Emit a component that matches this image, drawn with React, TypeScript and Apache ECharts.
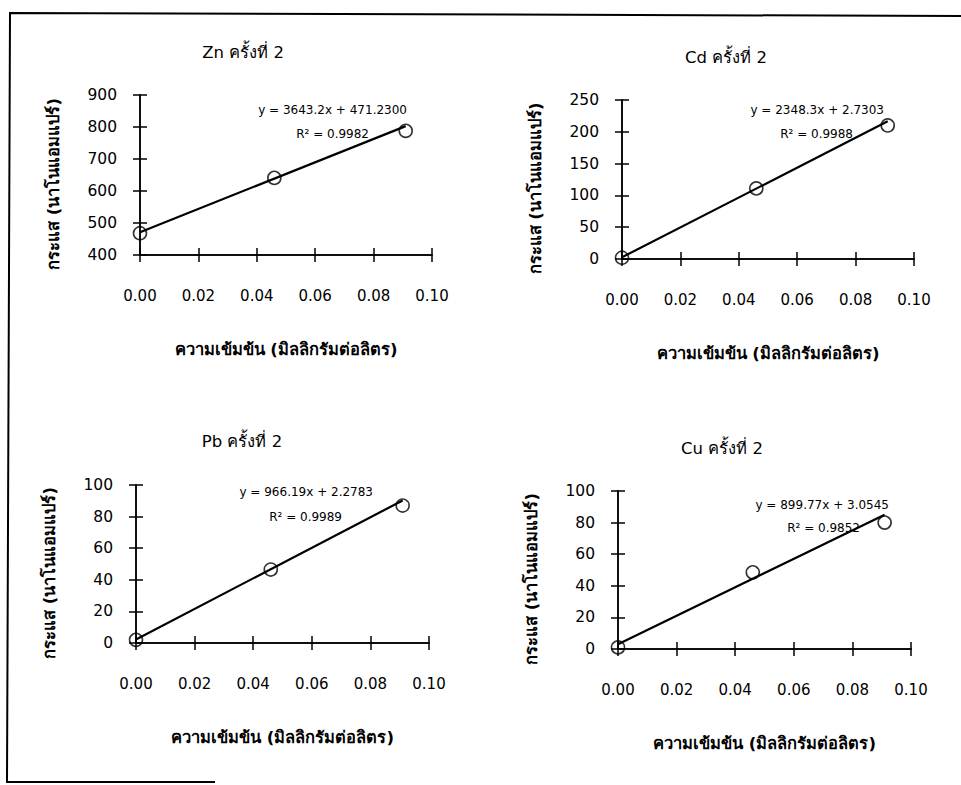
import React, { useEffect, useRef } from "react";
import * as echarts from "echarts";

// ---------- data ----------
const concentration = [0, 0.046, 0.091]; // mg/L
const znCurrent = [468, 641, 788];
const cdCurrent = [2, 111, 210];
const pbCurrent = [2, 46.5, 87];
const cuCurrent = [1, 48.5, 80];
const seriesCurrents = [znCurrent, cdCurrent, pbCurrent, cuCurrent];

const titles = ["Zn ครั้งที่ 2", "Cd ครั้งที่ 2", "Pb ครั้งที่ 2", "Cu ครั้งที่ 2"];
const slopes = [3643.2, 2348.3, 966.19, 899.77];
const intercepts = [471.23, 2.7303, 2.2783, 3.0545];
const equationLabels = [
  "y = 3643.2x + 471.2300",
  "y = 2348.3x + 2.7303",
  "y = 966.19x + 2.2783",
  "y = 899.77x + 3.0545",
];
const r2Labels = ["R² = 0.9982", "R² = 0.9988", "R² = 0.9989", "R² = 0.9852"];

const yMin = [400, 0, 0, 0];
const yMax = [900, 250, 100, 100];
const yStep = [100, 50, 20, 20];
const xMin = 0;
const xMax = 0.1;
const xStep = 0.02;

const xAxisName = "ความเข้มข้น (มิลลิกรัมต่อลิตร)";
const yAxisName = "กระแส (นาโนแอมแปร์)";

// ---------- layout ----------
const grids = [
  { left: 140, top: 95, width: 292, height: 160 },
  { left: 622, top: 100, width: 292, height: 159 },
  { left: 136, top: 485, width: 293, height: 158 },
  { left: 618, top: 491, width: 293, height: 158 },
];
const titlePos = [
  [238, 39],
  [721, 44],
  [237, 428],
  [717, 435],
];
const eqPos = [
  [407, 110, 369, 134],
  [884, 110, 853, 134],
  [373, 492, 342, 517],
  [889, 505, 860, 528],
];

const FONT = "'DejaVu Sans', 'Noto Sans', sans-serif";

export default function App() {
  const ref = useRef<HTMLDivElement>(null);
  useEffect(() => {
    if (!ref.current) return;
    const chart = echarts.init(ref.current, null, { renderer: "svg" });

    const xAxes: any[] = [];
    const yAxes: any[] = [];
    const series: any[] = [];
    const graphics: any[] = [];

    grids.forEach((g, i) => {
      const axisLine = { show: true, onZero: false, lineStyle: { color: "#000", width: 1.5 } };
      xAxes.push({
        type: "value",
        gridIndex: i,
        min: xMin,
        max: xMax,
        interval: xStep,
        position: "bottom",
        axisLine,
        axisTick: { show: true, length: 7, lineStyle: { color: "#000", width: 1.5 } },
        splitLine: { show: false },
        axisLabel: {
          margin: 33,
          color: "#000",
          fontSize: 15,
          fontFamily: FONT,
          formatter: (v: number) => v.toFixed(2),
        },
        name: xAxisName,
        nameLocation: "middle",
        nameGap: 86,
        nameTextStyle: { color: "#000", fontSize: 16.5, fontWeight: "bold", fontFamily: FONT },
      });
      xAxes.push({
        type: "value",
        gridIndex: i,
        min: xMin,
        max: xMax,
        interval: xStep,
        position: "bottom",
        axisLine,
        axisTick: { show: true, inside: true, length: 7, lineStyle: { color: "#000", width: 1.5 } },
        splitLine: { show: false },
        axisLabel: { show: false },
      });
      yAxes.push({
        type: "value",
        gridIndex: i,
        min: yMin[i],
        max: yMax[i],
        interval: yStep[i],
        position: "left",
        axisLine,
        axisTick: { show: true, length: 7, lineStyle: { color: "#000", width: 1.5 } },
        splitLine: { show: false },
        axisLabel: { margin: 23, color: "#000", fontSize: 15.5, fontFamily: FONT },
        name: yAxisName,
        nameLocation: "middle",
        nameGap: 78,
        nameTextStyle: {
          color: "#000",
          fontSize: 16.5,
          fontWeight: "bold",
          fontFamily: FONT,
          padding: [0, 18, 0, 0],
        },
      });
      yAxes.push({
        type: "value",
        gridIndex: i,
        min: yMin[i],
        max: yMax[i],
        interval: yStep[i],
        position: "left",
        axisLine,
        axisTick: { show: true, inside: true, length: 7, lineStyle: { color: "#000", width: 1.5 } },
        splitLine: { show: false },
        axisLabel: { show: false },
      });

      const ys = seriesCurrents[i];
      const x0 = concentration[0];
      const x1 = concentration[concentration.length - 1];
      series.push({
        type: "line",
        xAxisIndex: i * 2,
        yAxisIndex: i * 2,
        data: [
          [x0, slopes[i] * x0 + intercepts[i]],
          [x1, slopes[i] * x1 + intercepts[i]],
        ],
        showSymbol: false,
        lineStyle: { color: "#000", width: 2.2 },
        z: 2,
        silent: true,
      });
      series.push({
        type: "scatter",
        xAxisIndex: i * 2,
        yAxisIndex: i * 2,
        data: concentration.map((c, k) => [c, ys[k]]),
        symbol: "circle",
        symbolSize: 13,
        itemStyle: { color: "rgba(255,255,255,0)", borderColor: "#000", borderWidth: 1.6 },
        z: 3,
      });

      const ep = eqPos[i];
      graphics.push({
        type: "text",
        x: ep[0],
        y: ep[1],
        style: {
          text: equationLabels[i],
          align: "right",
          verticalAlign: "middle",
          fill: "#000",
          font: `12px ${FONT}`,
        },
      });
      graphics.push({
        type: "text",
        x: ep[2],
        y: ep[3],
        style: {
          text: r2Labels[i],
          align: "right",
          verticalAlign: "middle",
          fill: "#000",
          font: `12px ${FONT}`,
        },
      });
    });

    graphics.push({
      type: "polyline",
      shape: {
        points: [
          [961, 16],
          [10, 13],
          [7, 782],
          [215, 782],
        ],
      },
      style: { stroke: "#000", lineWidth: 2, fill: "none" },
    });

    chart.setOption({
      animation: false,
      backgroundColor: "#fff",
      title: titles.map((t, i) => ({
        text: t,
        left: titlePos[i][0],
        top: titlePos[i][1],
        textAlign: "center",
        textStyle: { color: "#000", fontSize: 16.5, fontWeight: "normal", fontFamily: FONT },
      })),
      grid: grids.map((g) => ({ ...g, containLabel: false })),
      xAxis: xAxes,
      yAxis: yAxes,
      series,
      graphic: graphics,
    });
    return () => chart.dispose();
  }, []);
  return (
    <div
      ref={ref}
      style={{ position: "absolute", left: 0, top: 0, width: 961, height: 785 }}
    />
  );
}
